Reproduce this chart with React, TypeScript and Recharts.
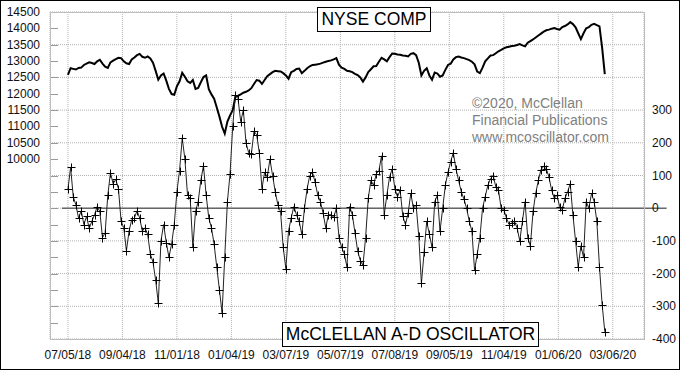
import React from 'react';
import { ComposedChart, Line, XAxis, YAxis, CartesianGrid, ReferenceLine } from 'recharts';

// one reading every 2 trading days, starting 07/05/18
const sampleStep = 2;

const tickDays = [0, 41, 82, 123, 164, 205, 246, 287, 328, 369, 410];
const tickLabels = [
  '07/05/18', '09/04/18', '11/01/18', '01/04/19', '03/07/19', '05/07/19',
  '07/08/19', '09/05/19', '11/04/19', '01/06/20', '03/06/20',
];

const nyseTicks = [
  5000, 5500, 6000, 6500, 7000, 7500, 8000, 8500, 9000, 9500,
  10000, 10500, 11000, 11500, 12000, 12500, 13000, 13500, 14000, 14500,
];
const oscTicks = [-400, -300, -200, -100, 0, 100, 200, 300, 400, 500];

const nyseComp = [
  12580, 12780, 12760, 12740, 12790, 12800, 12880, 12920, 12960, 12940,
  12910, 12990, 13040, 12920, 12830, 12790, 12960, 13010, 13060, 13100,
  13090, 12990, 12930, 12910, 13050, 13110, 13180, 13220, 13130, 13100,
  13140, 13080, 12950, 12700, 12430, 12560, 12620, 12400, 12150, 11990,
  11970, 12230, 12380, 12640, 12520, 12380, 12330, 12420, 12150, 12180,
  12350, 12510, 12560, 12140, 11980, 11850, 11580, 11300, 10990, 10780,
  11150, 11340, 11500, 11910, 11940, 11980, 12030, 12060, 12100, 12170,
  12300, 12420, 12400, 12300, 12420, 12540, 12600, 12660, 12700, 12690,
  12680, 12630, 12560, 12460, 12660, 12700, 12760, 12770, 12630, 12700,
  12780, 12840, 12880, 12890, 12900, 12920, 12950, 12980, 13000, 13020,
  13050, 13090, 12880, 12800, 12760, 12700, 12690, 12660, 12610, 12570,
  12500, 12370, 12500, 12660, 12750, 12840, 12850, 12980, 13100, 13050,
  12990, 13120, 13230, 13220, 13200, 13190, 13170, 13160, 13140, 13220,
  13240, 13180, 12950, 12560, 12700, 12780, 12560, 12430, 12650, 12620,
  12520, 12560, 12730, 12880, 12920, 13050, 13120, 13140, 13110, 13090,
  13060, 13030, 12980, 12900, 12680, 12630, 12800, 12990, 13080, 13170,
  13180, 13240, 13300, 13340, 13390, 13420, 13440, 13460, 13470, 13490,
  13520, 13480, 13450, 13560, 13610, 13660, 13720, 13780, 13840, 13900,
  13940, 13960, 13990, 14010, 13980, 13960, 14040, 14070, 14120, 14190,
  14130, 14030, 13850, 13670, 13850, 14000, 14040, 14110, 14140, 14100,
  14060, 13400, 12600,
];

const mcClellanOsc = [
  58, 125, 35, 10, -30, -8, -50, -25, -62, -40,
  -20, 5, -10, -90, -75, 40, 108, 75, 88, 60,
  -40, -60, -130, -70, -35, -30, -8, -30, -70, -60,
  -80, -140, -165, -220, -290, -100, -50, -105, -150, -110,
  -50, 50, 115, 215, 150, 40, 30, -120, -10, 20,
  85, 130, 40, -30, -60, -110, -180, -250, -320, -150,
  20, 105, 250, 345, 335, 265, 300, 200, 170, 165,
  235, 225, 170, 60, 110, 95, 150, 100, 50, 10,
  -10, -120, -185, -70, -30, 5, -20, -40, -80, 0,
  60, 100, 110, 80, 40, 20, -15, -60, -20, -20,
  -28, 0, -90, -120, -140, -180, 5, -20, -75, -130,
  -160, -175, -90, 30, 85, 70, 105, 115, 160, -20,
  40, 95, 120, 60, 35, 55, -25, -50, -15, 45,
  0, 10, -85, -230, -135, -40, -80, -120, 20, 40,
  -70, 0, 70, 110, 142, 170, 120, 85, 50, 28,
  0, -40, -70, -190, -140, -90, 0, 35, 70, 90,
  100, 65, 55, 0, -5, -30, -50, -45, -40, -60,
  -100, -40, 20, -90, -115, -10, 45, 85, 118, 128,
  120, 95, 55, 30, 40, 5, -5, 30, 50, 75,
  -20, -100, -180, -115, -150, 20, 0, 45, 20, -40,
  -180, -295, -378,
];

const data = nyseComp.map((v, k) => ({ day: k * sampleStep, nyse: v, osc: mcClellanOsc[k] }));

const FONT = '"Liberation Sans", Arial, sans-serif';

const Cross = (props: any) => {
  const { cx, cy, index } = props;
  if (cx == null || cy == null) return null;
  const x = Math.round(cx) + 0.5;
  const y = Math.round(cy) + 0.5;
  return (
    <path
      key={'c' + index}
      d={`M${x - 4},${y}H${x + 4}M${x},${y - 4}V${y + 4}`}
      stroke="#000"
      strokeWidth={1}
      fill="none"
    />
  );
};

const NyseTick = ({ y, payload }: any) => (
  <g>
    <line x1={50} x2={58} y1={Math.round(y) + 0.5} y2={Math.round(y) + 0.5} stroke="#999" />
    {payload.value >= 10000 && (
      <text x={40} y={y} dy={4} textAnchor="end" fontSize={12} fontFamily={FONT} fill="#111">
        {payload.value}
      </text>
    )}
  </g>
);

const OscTick = ({ y, payload }: any) =>
  payload.value <= 300 ? (
    <text x={652} y={y} dy={4} textAnchor="start" fontSize={12} fontFamily={FONT} fill="#111">
      {payload.value}
    </text>
  ) : null;

const DateTick = ({ x, payload }: any) => (
  <text x={x} y={359} textAnchor="middle" fontSize={12} fontFamily={FONT} fill="#111">
    {tickLabels[tickDays.indexOf(payload.value)]}
  </text>
);

const boxStyle: React.CSSProperties = {
  position: 'absolute',
  boxSizing: 'border-box',
  border: '1px solid #000',
  background: '#fff',
  fontFamily: FONT,
  fontSize: 17.5,
  color: '#000',
  display: 'flex',
  alignItems: 'center',
  justifyContent: 'center',
  whiteSpace: 'nowrap',
};

export default function App() {
  return (
    <div style={{ position: 'relative', width: 680, height: 370, background: '#fff' }}>
      <style>{`body{margin:0;}`}</style>
      <ComposedChart width={680} height={370} data={data} margin={{ top: 12, right: 0, bottom: 0, left: 0 }}>
        <CartesianGrid yAxisId="osc" stroke="#b0b0b0" strokeDasharray="1 1" />
        <XAxis
          dataKey="day"
          type="number"
          domain={[-13.5, 433.5]}
          allowDataOverflow
          ticks={tickDays}
          interval={0}
          height={31}
          axisLine={false}
          tickLine={false}
          tick={<DateTick />}
        />
        <YAxis
          yAxisId="nyse"
          orientation="left"
          width={50}
          domain={[4500, 14500]}
          allowDataOverflow
          ticks={nyseTicks}
          interval={0}
          axisLine={false}
          tickLine={false}
          tick={<NyseTick />}
        />
        <YAxis
          yAxisId="osc"
          orientation="right"
          width={36}
          domain={[-400, 600]}
          allowDataOverflow
          ticks={oscTicks}
          interval={0}
          axisLine={false}
          tickLine={false}
          tick={<OscTick />}
        />
        <ReferenceLine
          yAxisId="osc"
          segment={[{ x: -4.5, y: 0 }, { x: 450.5, y: 0 }]}
          ifOverflow="visible"
          stroke="#666"
          strokeWidth={1.5}
        />
        <Line
          yAxisId="nyse"
          dataKey="nyse"
          type="linear"
          stroke="#000"
          strokeWidth={2}
          dot={false}
          isAnimationActive={false}
        />
        <Line
          yAxisId="osc"
          dataKey="osc"
          type="linear"
          stroke="#222"
          strokeWidth={1}
          dot={<Cross />}
          isAnimationActive={false}
        />
      </ComposedChart>

      <div
        style={{
          position: 'absolute', left: 50, top: 12, width: 595, height: 328,
          boxSizing: 'border-box', border: '1px solid #bdbdbd', pointerEvents: 'none',
        }}
      />
      <div
        style={{
          position: 'absolute', left: 472, top: 95, fontFamily: FONT, fontSize: 14,
          lineHeight: '17px', color: '#808080', whiteSpace: 'nowrap',
        }}
      >
        ©2020, McClellan<br />Financial Publications<br />www.mcoscillator.com
      </div>
      <div style={{ ...boxStyle, left: 317, top: 7, width: 114, height: 25 }}>NYSE COMP</div>
      <div style={{ ...boxStyle, left: 282, top: 322, width: 257, height: 25 }}>McCLELLAN A-D OSCILLATOR</div>
      <div
        style={{
          position: 'absolute', left: 0, top: 0, width: 680, height: 370,
          boxSizing: 'border-box', border: '1px solid #000', pointerEvents: 'none',
        }}
      />
    </div>
  );
}
